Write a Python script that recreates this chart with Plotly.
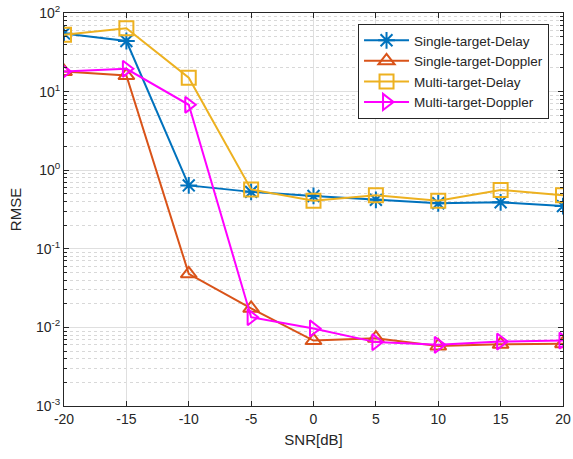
import plotly.graph_objects as go

snr = [-20, -15, -10, -5, 0, 5, 10, 15, 20]
single_delay = [55, 44, 0.64, 0.53, 0.47, 0.42, 0.38, 0.39, 0.35]
single_doppler = [18, 16, 0.048, 0.0175, 0.0068, 0.0073, 0.0058, 0.0061, 0.0062]
multi_delay = [53, 64, 15, 0.57, 0.41, 0.48, 0.41, 0.56, 0.48]
multi_doppler = [18, 19.5, 6.8, 0.0135, 0.0097, 0.0065, 0.006, 0.0066, 0.0068]

names = ["Single-target-Delay", "Single-target-Doppler", "Multi-target-Delay", "Multi-target-Doppler"]
colors = ["#0072BD", "#D95319", "#EDB120", "#FF00FF"]
symbols = ["asterisk-open", "triangle-up-open", "square-open", "triangle-right-open"]
series = [single_delay, single_doppler, multi_delay, multi_doppler]

y_tickvals = [1e-3, 1e-2, 1e-1, 1, 10, 100]
y_ticktext = ["10<sup>-3</sup>", "10<sup>-2</sup>", "10<sup>-1</sup>", "10<sup>0</sup>", "10<sup>1</sup>", "10<sup>2</sup>"]

fig = go.Figure()
for n, c, s, y in zip(names, colors, symbols, series):
    fig.add_trace(go.Scatter(
        x=snr, y=y, name=n, mode="lines+markers",
        line=dict(color=c, width=2),
        marker=dict(symbol=s, size=14, color=c, line=dict(color=c, width=2)),
    ))

font = "Liberation Sans, Arial, sans-serif"
fig.update_layout(
    width=573, height=459,
    margin=dict(l=64, r=10, t=13, b=53),
    paper_bgcolor="white", plot_bgcolor="white",
    font=dict(family=font, size=14, color="#262626"),
    legend=dict(
        x=0.972, y=0.972, xanchor="right", yanchor="top",
        bgcolor="white", bordercolor="#262626", borderwidth=1,
        font=dict(size=13.5, color="#262626"),
        itemwidth=45, tracegroupgap=0,
    ),
    showlegend=True,
)
fig.update_xaxes(
    range=[-20, 20], tickvals=snr, ticktext=[str(v) for v in snr],
    showgrid=True, gridcolor="#DFDFDF", gridwidth=1,
    showline=True, linecolor="#262626", linewidth=1, mirror="ticks",
    ticks="inside", ticklen=5, tickcolor="#262626",
    zeroline=False, automargin=False,
    title=dict(text="SNR[dB]", font=dict(size=15), standoff=8),
)
fig.update_yaxes(
    type="log", range=[-3, 2], tickvals=y_tickvals, ticktext=y_ticktext,
    showgrid=True, gridcolor="#DFDFDF", gridwidth=1,
    showline=True, linecolor="#262626", linewidth=1, mirror="ticks",
    ticks="inside", ticklen=5, tickcolor="#262626", automargin=False,
    minor=dict(dtick="D1", showgrid=True, gridcolor="#D8D8D8", griddash="dot",
               ticks="inside", ticklen=3, tickcolor="#262626"),
    title=dict(text="RMSE", font=dict(size=15), standoff=10),
)

fig.write_html("out.html", config={"displayModeBar": False},
               post_script="document.body.style.margin='0';")
